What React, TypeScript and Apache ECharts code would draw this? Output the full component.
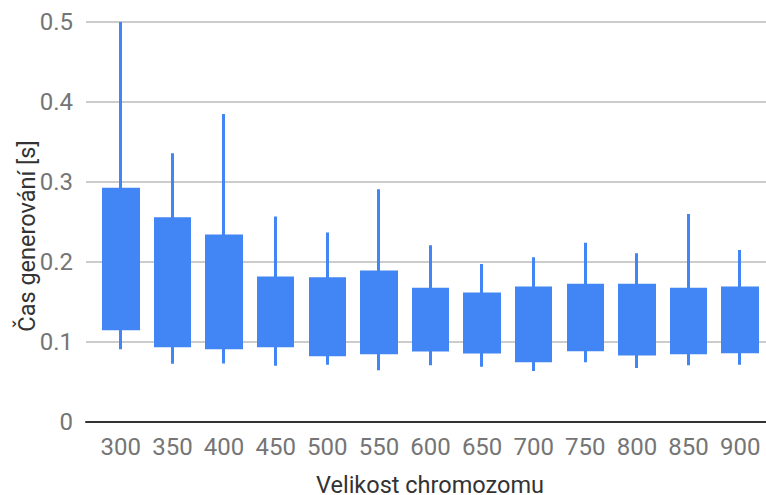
import React, { useEffect, useRef } from "react";
import * as echarts from "echarts";

const categories = ["300", "350", "400", "450", "500", "550", "600", "650", "700", "750", "800", "850", "900"];
// box bottom, box top, whisker low, whisker high
const boxLow = [0.1166, 0.0954, 0.0929, 0.0954, 0.0841, 0.0866, 0.09, 0.0875, 0.0766, 0.0904, 0.085, 0.0866, 0.0879];
const boxHigh = [0.291, 0.254, 0.2325, 0.18, 0.179, 0.1875, 0.166, 0.16, 0.1675, 0.171, 0.171, 0.166, 0.1675];
const whiskerLow = [0.0908, 0.0729, 0.073, 0.0704, 0.0716, 0.0646, 0.071, 0.069, 0.0638, 0.0746, 0.0675, 0.0709, 0.0716];
const whiskerHigh = [0.5, 0.336, 0.385, 0.257, 0.237, 0.291, 0.221, 0.1975, 0.206, 0.224, 0.211, 0.26, 0.215];
const yTicks = { min: 0, max: 0.5, interval: 0.1 };

const xTitle = "Velikost chromozomu";
const yTitle = "Čas generování [s]";

export default function App() {
  const ref = useRef<HTMLDivElement>(null);
  useEffect(() => {
    if (!ref.current) return;
    const chart = echarts.init(ref.current, null, { renderer: "svg" });
    const blue = "#4285f4";
    const font = "Roboto";
    const data = categories.map((_, i) => [boxLow[i], boxHigh[i], whiskerLow[i], whiskerHigh[i]]);
    chart.setOption({
      animation: false,
      backgroundColor: "#ffffff",
      textStyle: { fontFamily: font },
      grid: [
        { left: 86, right: 0, top: 22, bottom: 73 },
        { left: 95, right: -3, top: 22, bottom: 73 },
      ],
      xAxis: [
        {
          gridIndex: 0,
          type: "value",
          min: 0,
          max: 1,
          axisLine: { show: true, onZero: false, lineStyle: { color: "#333333", width: 2 } },
          axisTick: { show: false },
          axisLabel: { show: false },
          splitLine: { show: false },
          z: 5,
        },
        {
          gridIndex: 1,
          type: "category",
          data: categories,
          axisLine: { show: false },
          axisTick: { show: false },
          axisLabel: { color: "#757575", fontSize: 24, fontFamily: font, margin: 13, interval: 0 },
          splitLine: { show: false },
        },
      ],
      yAxis: [
        {
          gridIndex: 0,
          type: "value",
          min: yTicks.min,
          max: yTicks.max,
          interval: yTicks.interval,
          axisLine: { show: false },
          axisTick: { show: false },
          axisLabel: { color: "#757575", fontSize: 24, fontFamily: font, margin: 13 },
          splitLine: { show: true, lineStyle: { color: "#cccccc", width: 2 } },
        },
        {
          gridIndex: 1,
          type: "value",
          min: yTicks.min,
          max: yTicks.max,
          show: false,
        },
      ],
      series: [
        {
          type: "candlestick",
          xAxisIndex: 1,
          yAxisIndex: 1,
          barWidth: 35,
          data,
          itemStyle: {
            color: blue,
            color0: blue,
            borderColor: blue,
            borderColor0: blue,
            borderWidth: 3,
          },
          z: 3,
        },
      ],
      graphic: [
        {
          type: "text",
          x: 430,
          y: 485,
          style: {
            text: xTitle,
            fontSize: 23.5,
            fontFamily: font,
            fill: "#333333",
            align: "center",
            verticalAlign: "middle",
          },
        },
        {
          type: "text",
          x: 27,
          y: 236,
          rotation: Math.PI / 2,
          style: {
            text: yTitle,
            fontSize: 23.5,
            fontFamily: font,
            fill: "#333333",
            align: "center",
            verticalAlign: "middle",
          },
        },
      ],
    });
    return () => chart.dispose();
  }, []);
  return <div ref={ref} style={{ width: 766, height: 495, position: "absolute", left: 0, top: 0 }} />;
}
